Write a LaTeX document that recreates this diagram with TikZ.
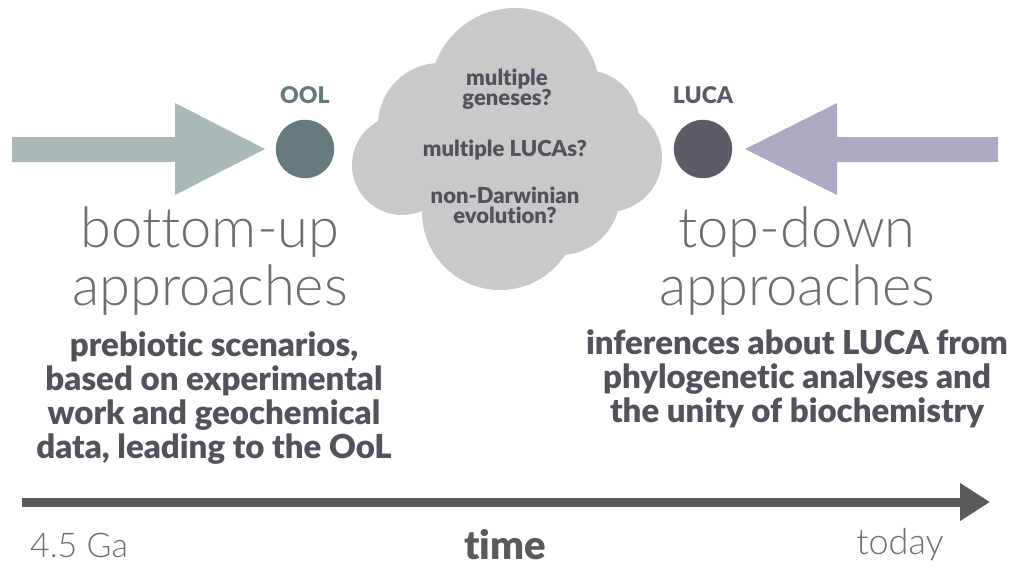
\documentclass[tikz,border=0pt]{standalone}
\usepackage{fontspec}
\setmainfont{Lato}
\newfontfamily\thinfont{Lato Light}[Ligatures=NoCommon]
\newfontfamily\heavyfont{Lato Black}[Ligatures=NoCommon]
\usetikzlibrary{arrows.meta}

\definecolor{arrowleft}{HTML}{A9B9B7}
\definecolor{arrowright}{HTML}{AFA8C4}
\definecolor{oolgrey}{HTML}{667A7E}
\definecolor{lucagrey}{HTML}{5E5A66}
\definecolor{cloudgrey}{HTML}{C9C9C9}
\definecolor{textdark}{HTML}{55515C}
\definecolor{thingrey}{HTML}{6E6E6E}
\definecolor{timegrey}{HTML}{5A5A5A}

\tikzset{
  thinlabel/.style={text=thingrey, font=\thinfont\fontsize{56}{58}\selectfont, align=center},
  boldblock/.style={text=textdark, font=\heavyfont\fontsize{33}{34}\selectfont, align=center},
  cloudtext/.style={text=textdark, font=\heavyfont\fontsize{22}{20}\selectfont, align=center},
  pointlabel/.style={font=\heavyfont\fontsize{23}{24}\selectfont},
}

\begin{document}
\begin{tikzpicture}[x=1pt, y=-1pt]
                \useasboundingbox (0,0) rectangle (1016,570);
                % block arrows
                \fill[arrowleft] (12,137) -- (175,137) -- (175,103) -- (265,149) -- (175,195) -- (175,162) -- (12,162) -- cycle;
                \fill[arrowright] (998,137) -- (837,137) -- (837,103) -- (745,149) -- (837,195) -- (837,162) -- (998,162) -- cycle;
                % OOL and LUCA
                \filldraw[oolgrey] (305,149) circle (29);
                \filldraw[lucagrey] (703,149) circle (29);
                \node[pointlabel, text=oolgrey] (ool) at (305,95) {OOL};
                \node[pointlabel, text=lucagrey] (luca) at (703,95) {LUCA};
                % cloud
                \fill[cloudgrey] (515,93) circle (85);
                \fill[cloudgrey] (440,125) circle (62);
                \fill[cloudgrey] (402,165) circle (50);
                \fill[cloudgrey] (608,158) circle (54);
                \fill[cloudgrey] (585,125) circle (55);
                \fill[cloudgrey] (500,212) circle (78);
                \fill[cloudgrey] (560,195) circle (60);
                \node[cloudtext] (geneses) at (507,89) {multiple\\geneses?};
                \node[cloudtext] (lucas) at (505,150) {multiple LUCAs?};
                \node[cloudtext] (darwin) at (505,205) {non-Darwinian\\evolution?};
                % approaches
                \node[thinlabel] (bottomup) at (210,261) {bottom-up\\approaches};
                \node[thinlabel] (topdown) at (797,261) {top-down\\approaches};
                \node[boldblock] (prebiotic) at (214,398) {prebiotic scenarios,\\based on experimental\\work and geochemical\\data, leading to the OoL};
                \node[boldblock] (inferences) at (797,379) {inferences about LUCA from\\phylogenetic analyses and\\the unity of biochemistry};
                % time axis
                \coordinate (start) at (22,502);
                \coordinate (end) at (990,502);
                \draw[timegrey, line width=9pt, -{Triangle[length=30pt, width=36pt]}] (start) -- (end);
                \node[text=thingrey, font=\thinfont\fontsize{34}{40}\selectfont] (past) at (79,545) {4.5 Ga};
                \node[text=timegrey, font=\heavyfont\fontsize{40}{44}\selectfont] (time) at (505,545) {time};
                \node[text=thingrey, font=\thinfont\fontsize{36}{40}\selectfont] (today) at (900,545) {today};
\end{tikzpicture}
\end{document}
